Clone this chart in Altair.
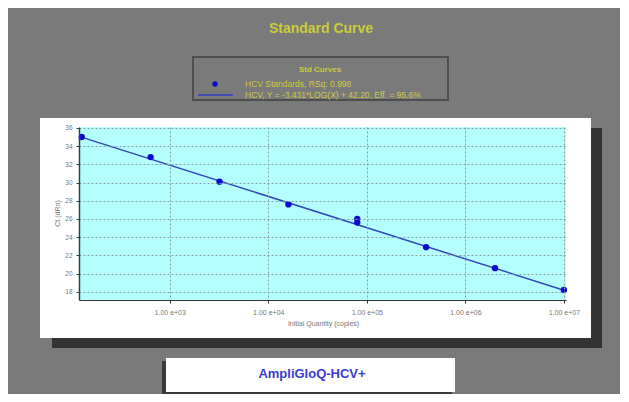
import altair as alt
import pandas as pd

# ---- data ----
quantity = [128, 640, 3200, 16000, 80000, 80000, 400000, 2000000, 10000000]
ct_value = [35.0, 32.8, 30.1, 27.6, 26.0, 25.6, 22.9, 20.6, 18.2]
fit_quantity = [120, 10000000]
fit_ct = [35.07, 18.18]
x_ticks = [1e3, 1e4, 1e5, 1e6, 1e7]
y_ticks = [18, 20, 22, 24, 26, 28, 30, 32, 34, 36]

chart_title = "Standard Curve"
legend_heading = "Std Curves"
legend_item1 = "HCV Standards, RSq: 0.998"
legend_item2 = "HCV, Y = -3.431*LOG(X) + 42.20, Eff. = 95.6%"
x_title = "Initial Quantity (copies)"
y_title = "Ct (dRn)"
footer = "AmpliGloQ-HCV+"

W, H = 487, 173
FONT = "Liberation Sans"

pts = pd.DataFrame({"q": quantity, "ct": ct_value})
fit = pd.DataFrame({"q": fit_quantity, "ct": fit_ct})
base = alt.Chart(pd.DataFrame({"k": [0]}))


def box(x1, x2, y1, y2, fill, stroke=None, sw=0):
    kw = dict(fill=fill)
    if stroke:
        kw.update(stroke=stroke, strokeWidth=sw)
    return base.mark_rect(**kw).encode(
        x=alt.value(x1), x2=alt.value(x2), y=alt.value(y1), y2=alt.value(y2)
    )


def label(txt, x, y, size, color, weight="normal", align="center"):
    return base.mark_text(
        text=txt, fontSize=size, color=color, fontWeight=weight, align=align,
        baseline="middle", font=FONT
    ).encode(x=alt.value(x), y=alt.value(y))


shadow = box(-27, 523, 1, 221, "#333333")
panel = box(-39, 512, -9, 211, "#ffffff")
plotbg = box(0, W, 0, H, "#b4ffff")

legend_box = box(114, 369, -70, -27, "#7a7a7a", "#4e4e4e", 2)
legend_pt = base.mark_point(filled=True, shape="circle", size=30, color="#0a0ad2", opacity=1).encode(
    x=alt.value(136), y=alt.value(-43))
legend_ln = base.mark_rule(color="#3040c0", strokeWidth=1.5).encode(
    x=alt.value(119), x2=alt.value(154), y=alt.value(-32))
t_title = label(chart_title, 242, -98, 14, "#cccc3a", "bold")
t_head = label(legend_heading, 241, -57, 8, "#cccc3a", "bold")
t_it1 = label(legend_item1, 166, -43, 8.5, "#cccc3a", align="left")
t_it2 = label(legend_item2, 166, -32, 8.5, "#cccc3a", align="left")

foot_shadow = box(83, 373, 234, 272, "#3a3a3a")
foot_box = box(87, 376, 231, 265, "#ffffff")
t_foot = label(footer, 233, 247, 13, "#3a3ad0", "bold")

x_enc = alt.X(
    "q:Q",
    scale=alt.Scale(type="log", domain=[120, 1.05e7], nice=False),
    axis=alt.Axis(
        values=x_ticks,
        labelExpr="'1.00 e+0' + format(log(datum.value)/log(10), '.0f')",
        labelFontSize=7, labelColor="#777777", labelFont=FONT, labelPadding=5,
        labelOverlap=False,
        tickSize=3, tickColor="#333333", domainColor="#333333",
        grid=True, gridDash=[2, 2], gridColor="#8aa0a0",
        title=x_title, titleFontSize=7, titleFontWeight="normal",
        titleColor="#777777", titleFont=FONT, titleX=244, titleY=23,
        titleBaseline="middle", zindex=1,
    ),
)
y_enc = alt.Y(
    "ct:Q",
    scale=alt.Scale(domain=[17.1, 36.1], nice=False, zero=False),
    axis=alt.Axis(
        values=y_ticks, labelFontSize=6.5, labelColor="#777777", labelFont=FONT,
        labelPadding=4, labelOverlap=False, tickSize=3, tickColor="#204848",
        domainColor="#204848", domainWidth=1.5, grid=True, gridDash=[2, 2],
        gridColor="#8aa0a0",
        title=y_title, titleFontSize=7, titleFontWeight="normal",
        titleColor="#777777", titleFont=FONT, titleX=-22, titleY=86,
        titleBaseline="middle", titleAlign="center", titleAngle=-90, zindex=1,
    ),
)

fit_line = alt.Chart(fit).mark_line(color="#3048b8", strokeWidth=1.5).encode(x=x_enc, y=y_enc)
points = alt.Chart(pts).mark_point(filled=True, shape="circle", size=40, color="#0a0ad2", opacity=1).encode(
    x=x_enc, y=y_enc)

chart = alt.layer(
    shadow, panel, plotbg, legend_box, legend_pt, legend_ln,
    t_title, t_head, t_it1, t_it2, foot_shadow, foot_box, t_foot,
    fit_line, points,
).properties(
    width=W, height=H,
    padding={"left": 71, "top": 119, "right": 54, "bottom": 94},
    autosize=alt.AutoSizeParams(type="none"),
).configure(background="#7a7a7a").configure_view(stroke=None, fill=None)

chart.save("out.html", embed_options={"renderer": "svg", "actions": False})
